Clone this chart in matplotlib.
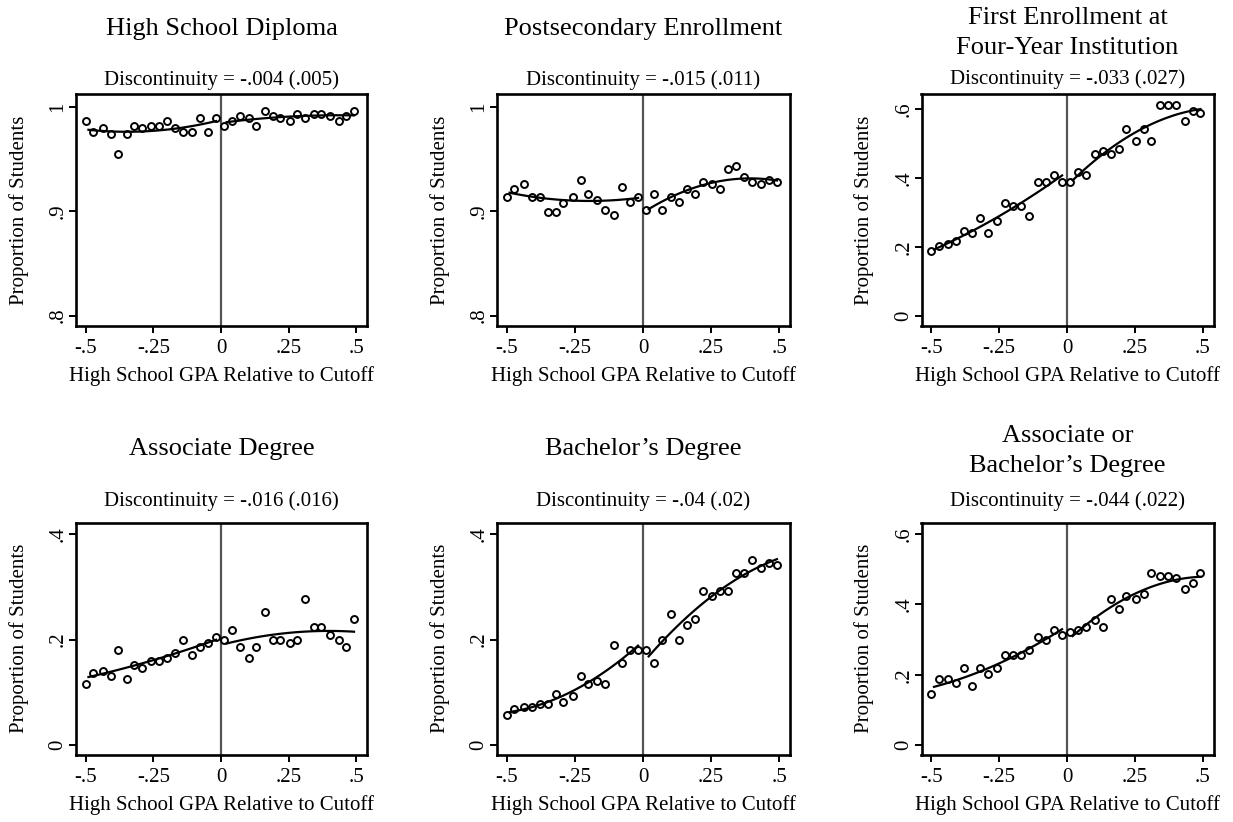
import numpy as np
import matplotlib
matplotlib.use("Agg")
import matplotlib.pyplot as plt

plt.rcParams['font.family'] = ['Liberation Serif', 'DejaVu Serif']

# ---------------- data ----------------
gpa_left = [-0.500, -0.472, -0.437, -0.408, -0.379, -0.349, -0.320, -0.292, -0.257,
            -0.228, -0.200, -0.170, -0.141, -0.108, -0.077, -0.048, -0.018]
gpa_right = [0.011, 0.039, 0.070, 0.102, 0.131, 0.162, 0.191, 0.219, 0.254,
             0.283, 0.311, 0.343, 0.371, 0.402, 0.435, 0.463, 0.492]

titles = ["High School Diploma", "Postsecondary Enrollment",
          "First Enrollment at\nFour-Year Institution",
          "Associate Degree", "Bachelor\u2019s Degree",
          "Associate or\nBachelor\u2019s Degree"]
discontinuity = ["-.004 (.005)", "-.015 (.011)", "-.033 (.027)",
                 "-.016 (.016)", "-.04 (.02)", "-.044 (.022)"]

hs_diploma_l = [0.986, 0.976, 0.979, 0.974, 0.955, 0.974, 0.981, 0.979, 0.981,
                0.981, 0.986, 0.979, 0.976, 0.976, 0.989, 0.976, 0.989]
hs_diploma_r = [0.981, 0.986, 0.991, 0.989, 0.981, 0.996, 0.991, 0.989, 0.986,
                0.993, 0.989, 0.993, 0.993, 0.991, 0.986, 0.991, 0.996]

postsec_l = [0.913, 0.921, 0.926, 0.913, 0.913, 0.899, 0.899, 0.908, 0.913,
             0.930, 0.916, 0.911, 0.901, 0.896, 0.923, 0.909, 0.913]
postsec_r = [0.901, 0.916, 0.901, 0.913, 0.909, 0.921, 0.916, 0.928, 0.926,
             0.921, 0.940, 0.943, 0.933, 0.928, 0.926, 0.930, 0.928]

fouryear_l = [0.187, 0.202, 0.209, 0.217, 0.247, 0.239, 0.284, 0.239, 0.276,
              0.328, 0.320, 0.320, 0.291, 0.387, 0.387, 0.409, 0.387]
fouryear_r = [0.387, 0.417, 0.409, 0.469, 0.477, 0.469, 0.483, 0.543, 0.506,
              0.543, 0.506, 0.610, 0.610, 0.610, 0.565, 0.594, 0.587]

assoc_l = [0.116, 0.136, 0.141, 0.131, 0.180, 0.126, 0.151, 0.146, 0.160,
           0.160, 0.165, 0.175, 0.199, 0.170, 0.185, 0.194, 0.204]
assoc_r = [0.199, 0.219, 0.185, 0.165, 0.185, 0.253, 0.199, 0.199, 0.194,
           0.199, 0.277, 0.224, 0.224, 0.209, 0.199, 0.185, 0.239]

bach_l = [0.057, 0.068, 0.072, 0.072, 0.077, 0.077, 0.097, 0.082, 0.092,
          0.131, 0.116, 0.121, 0.116, 0.189, 0.155, 0.180, 0.180]
bach_r = [0.180, 0.155, 0.199, 0.248, 0.199, 0.228, 0.239, 0.292, 0.282,
          0.292, 0.292, 0.326, 0.326, 0.351, 0.336, 0.346, 0.341]

assoc_bach_l = [0.145, 0.189, 0.189, 0.175, 0.218, 0.167, 0.218, 0.203, 0.218,
                0.255, 0.255, 0.255, 0.270, 0.306, 0.299, 0.328, 0.313]
assoc_bach_r = [0.321, 0.328, 0.335, 0.357, 0.335, 0.416, 0.387, 0.423, 0.416,
                0.430, 0.489, 0.481, 0.481, 0.474, 0.444, 0.460, 0.489]

series = [(hs_diploma_l, hs_diploma_r), (postsec_l, postsec_r), (fouryear_l, fouryear_r),
          (assoc_l, assoc_r), (bach_l, bach_r), (assoc_bach_l, assoc_bach_r)]

xticks = [-0.5, -0.25, 0, 0.25, 0.5]
xticklabels = ["-.5", "-.25", "0", ".25", ".5"]
yticks_list = [[0.8, 0.9, 1.0], [0.8, 0.9, 1.0], [0, 0.2, 0.4, 0.6],
               [0, 0.2, 0.4], [0, 0.2, 0.4], [0, 0.2, 0.4, 0.6]]
yticklabels_list = [[".8", ".9", "1"], [".8", ".9", "1"], ["0", ".2", ".4", ".6"],
                    ["0", ".2", ".4"], ["0", ".2", ".4"], ["0", ".2", ".4", ".6"]]
ylims = [(0.790, 1.012), (0.790, 1.012), (-0.029, 0.643),
         (-0.019, 0.422), (-0.019, 0.422), (-0.0285, 0.633)]
xlabel = "High School GPA Relative to Cutoff"
ylabel = "Proportion of Students"

# ---------------- layout (pixels) ----------------
W, H = 1233, 822
fig = plt.figure(figsize=(W / 100, H / 100), dpi=100)

col_left = [76, 497, 921.5]
col_width = [291, 293, 292]
row_top = [94, 522.5]
row_bottom = [326, 755]

# baseline of the LAST line of each title (pixels from top)
title_base = {0: 35, 1: 35, 2: 53.5, 3: 455, 4: 455, 5: 471.5}
disc_base = {0: 84.5, 1: 84.5, 2: 84, 3: 505.5, 4: 505.5, 5: 505.5}

for i in range(6):
    r, c = divmod(i, 3)
    left = col_left[c]
    w = col_width[c]
    top = row_top[r]
    bot = row_bottom[r]
    ax = fig.add_axes([left / W, 1 - bot / H, w / W, (bot - top) / H])

    yl, yr = series[i]
    xl = np.array(gpa_left)
    xr = np.array(gpa_right)
    yl = np.array(yl)
    yr = np.array(yr)

    ax.axvline(0, color='#555555', lw=1.6, zorder=1)
    ax.plot(xl, yl, 'o', ms=5, mfc='none', mec='black', mew=1.4, zorder=2)
    ax.plot(xr, yr, 'o', ms=5, mfc='none', mec='black', mew=1.4, zorder=2)

    for xs, ys in ((xl, yl), (xr, yr)):
        coef = np.polyfit(xs, ys, 2)
        grid = np.linspace(xs.min() + 0.01, xs.max(), 100)
        ax.plot(grid, np.polyval(coef, grid), color='black', lw=1.6, zorder=3)

    ax.set_xlim(-0.536, 0.540)
    ax.set_ylim(*ylims[i])
    ax.set_xticks(xticks)
    ax.set_xticklabels(xticklabels)
    ax.set_yticks(yticks_list[i])
    ax.set_yticklabels(yticklabels_list[i], rotation=90, va='center')
    ax.tick_params(axis='both', direction='out', length=5, width=1.4, labelsize=15)
    ax.tick_params(axis='x', pad=4)
    ax.tick_params(axis='y', pad=1)
    for s in ax.spines.values():
        s.set_linewidth(1.9)

    ax.set_xlabel(xlabel, fontsize=15)
    ax.xaxis.set_label_coords(0.5, -40.5 / (bot - top))
    ax.set_ylabel(ylabel, fontsize=15)
    ax.yaxis.set_label_coords(-47 / w, 0.5)

    cx = (left + w / 2) / W
    fig.text(cx, 1 - title_base[i] / H, titles[i], ha='center', va='baseline',
             fontsize=19, linespacing=1.45)
    fig.text(cx, 1 - disc_base[i] / H, "Discontinuity = " + discontinuity[i],
             ha='center', va='baseline', fontsize=15)

fig.savefig("out.png", dpi=100, facecolor='white')
